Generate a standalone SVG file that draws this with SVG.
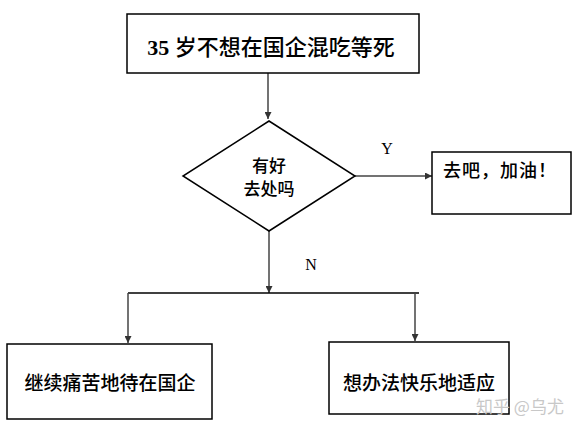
<svg xmlns="http://www.w3.org/2000/svg" width="581" height="433" viewBox="0 0 581 433">
<defs>
<style>
.box{fill:#fff;stroke:#000;stroke-width:1.5}
.t{font-family:"Liberation Serif","Noto Sans CJK SC",serif;fill:#000;text-anchor:middle;font-weight:500}
.c{stroke:#444;stroke-width:1.5;fill:none}
.lbl{font-family:"Liberation Serif",serif;font-size:16px;fill:#000;text-anchor:middle}
</style>
<marker id="ah" viewBox="0 0 8 8" refX="8" refY="4" markerWidth="7" markerHeight="7" markerUnits="userSpaceOnUse" orient="auto">
<path d="M0,0 L8,4 L0,8 z" fill="#333"/>
</marker>
</defs>
<rect width="581" height="433" fill="#fff"/>
<g id="connectors">
<line class="c" x1="268" y1="73" x2="268" y2="119" marker-end="url(#ah)"/>
<line class="c" x1="355" y1="176" x2="432" y2="176" marker-end="url(#ah)"/>
<line class="c" x1="269" y1="231" x2="269" y2="293" marker-end="url(#ah)"/>
<polyline class="c" points="128,293 419,293" style="stroke:#000"/>
<line class="c" x1="128" y1="293" x2="128" y2="343" marker-end="url(#ah)"/>
<line class="c" x1="415" y1="293" x2="415" y2="341" marker-end="url(#ah)"/>
<text class="lbl" x="387" y="154">Y</text>
<text class="lbl" x="311" y="270">N</text>
</g>
<g id="start">
<rect class="box" x="127" y="14" width="292" height="59"/>
<text class="t" x="271" y="55" font-size="22"><tspan font-weight="bold">35</tspan> 岁不想在国企混吃等死</text>
</g>
<g id="decision">
<polygon class="box" points="269,121 355,176 269,231 183,176"/>
<text class="t" x="269" y="172" font-size="17">有好</text>
<text class="t" x="269" y="195" font-size="17">去处吗</text>
</g>
<g id="yes">
<rect class="box" x="432" y="152" width="139" height="62"/>
<text class="t" x="500" y="177" font-size="18" letter-spacing="1">去吧，加油！</text>
</g>
<g id="stay">
<rect class="box" x="7" y="344" width="205" height="75"/>
<text class="t" x="110" y="390" font-size="19">继续痛苦地待在国企</text>
</g>
<g id="adapt">
<rect class="box" x="329" y="342" width="180" height="72"/>
<text class="t" x="419" y="390" font-size="19">想办法快乐地适应</text>
</g>
<text x="520" y="413" font-family="'Noto Sans CJK SC',sans-serif" font-size="17" fill="#c8c8c8" text-anchor="middle">知乎 @乌尤</text>
</svg>
